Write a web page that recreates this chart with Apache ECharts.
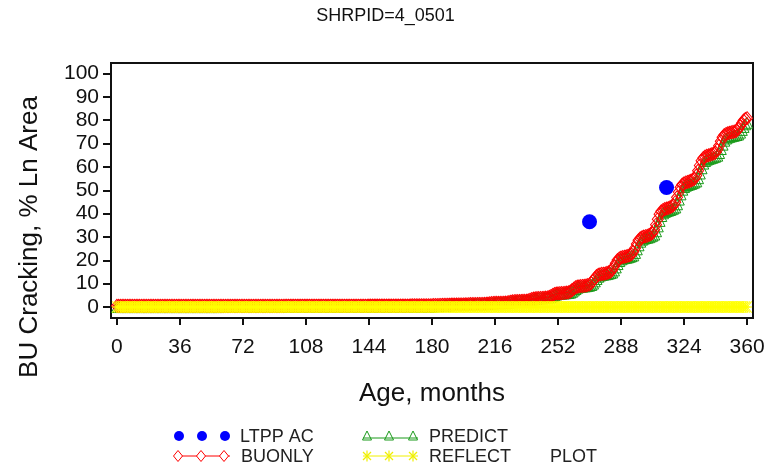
<!DOCTYPE html>
<html><head><meta charset="utf-8">
<script src="https://cdn.jsdelivr.net/npm/echarts@6/dist/echarts.min.js"></script>
<style>html,body{margin:0;padding:0;background:#fff}#c{width:771px;height:471px}</style>
</head><body><div id="c"></div>
<script>
const TITLE = 'SHRPID=4_0501';
const X_NAME = 'Age, months';
const Y_NAME = 'BU Cracking, % Ln Area';
const X_TICKS = [0,36,72,108,144,180,216,252,288,324,360];
const Y_TICKS = [0,10,20,30,40,50,60,70,80,90,100];

const AGES = [
0,1,2,3,4,5,6,7,8,9,10,11,
12,13,14,15,16,17,18,19,20,21,22,23,
24,25,26,27,28,29,30,31,32,33,34,35,
36,37,38,39,40,41,42,43,44,45,46,47,
48,49,50,51,52,53,54,55,56,57,58,59,
60,61,62,63,64,65,66,67,68,69,70,71,
72,73,74,75,76,77,78,79,80,81,82,83,
84,85,86,87,88,89,90,91,92,93,94,95,
96,97,98,99,100,101,102,103,104,105,106,107,
108,109,110,111,112,113,114,115,116,117,118,119,
120,121,122,123,124,125,126,127,128,129,130,131,
132,133,134,135,136,137,138,139,140,141,142,143,
144,145,146,147,148,149,150,151,152,153,154,155,
156,157,158,159,160,161,162,163,164,165,166,167,
168,169,170,171,172,173,174,175,176,177,178,179,
180,181,182,183,184,185,186,187,188,189,190,191,
192,193,194,195,196,197,198,199,200,201,202,203,
204,205,206,207,208,209,210,211,212,213,214,215,
216,217,218,219,220,221,222,223,224,225,226,227,
228,229,230,231,232,233,234,235,236,237,238,239,
240,241,242,243,244,245,246,247,248,249,250,251,
252,253,254,255,256,257,258,259,260,261,262,263,
264,265,266,267,268,269,270,271,272,273,274,275,
276,277,278,279,280,281,282,283,284,285,286,287,
288,289,290,291,292,293,294,295,296,297,298,299,
300,301,302,303,304,305,306,307,308,309,310,311,
312,313,314,315,316,317,318,319,320,321,322,323,
324,325,326,327,328,329,330,331,332,333,334,335,
336,337,338,339,340,341,342,343,344,345,346,347,
348,349,350,351,352,353,354,355,356,357,358,359,
360];

const BUONLY = [
0.5,0.5,0.5,0.5,0.5,0.5,0.5,0.5,0.5,0.5,0.5,0.5,
0.5,0.5,0.5,0.5,0.5,0.5,0.5,0.5,0.5,0.5,0.5,0.5,
0.5,0.5,0.5,0.5,0.5,0.5,0.5,0.5,0.5,0.5,0.5,0.5,
0.5,0.5,0.5,0.5,0.5,0.5,0.5,0.5,0.5,0.5,0.5,0.5,
0.5,0.5,0.5,0.5,0.5,0.5,0.5,0.5,0.5,0.5,0.5,0.5,
0.5,0.5,0.5,0.5,0.5,0.5,0.5,0.5,0.5,0.5,0.5,0.5,
0.5,0.5,0.5,0.5,0.5,0.5,0.5,0.5,0.5,0.5,0.5,0.5,
0.5,0.5,0.5,0.5,0.5,0.5,0.5,0.5,0.5,0.5,0.5,0.5,
0.55,0.55,0.55,0.55,0.55,0.55,0.55,0.55,0.55,0.55,0.55,0.55,
0.55,0.55,0.55,0.55,0.55,0.55,0.55,0.55,0.55,0.55,0.55,0.55,
0.55,0.55,0.55,0.55,0.55,0.55,0.55,0.55,0.55,0.55,0.55,0.55,
0.55,0.55,0.55,0.55,0.55,0.55,0.55,0.55,0.55,0.55,0.55,0.55,
0.6,0.6,0.6,0.6,0.6,0.6,0.6,0.6,0.6,0.6,0.6,0.6,
0.6,0.6,0.6,0.6,0.6,0.6,0.6,0.6,0.6,0.6,0.6,0.6,
0.7,0.7,0.7,0.7,0.7,0.7,0.7,0.7,0.7,0.7,0.7,0.7,
0.80,0.82,0.84,0.86,0.88,0.90,0.92,0.94,0.96,0.98,1.00,1.02,
1.04,1.06,1.08,1.10,1.11,1.11,1.12,1.14,1.18,1.22,1.26,1.28,
1.29,1.29,1.30,1.30,1.32,1.33,1.35,1.41,1.50,1.60,1.69,1.74,
1.77,1.78,1.79,1.80,1.82,1.85,1.88,1.98,2.12,2.28,2.42,2.50,
2.54,2.57,2.58,2.60,2.64,2.68,2.73,2.89,3.12,3.38,3.61,3.74,
3.81,3.85,3.87,3.90,3.96,4.03,4.11,4.36,4.74,5.16,5.54,5.75,
5.85,5.92,5.96,6.00,6.09,6.19,6.31,6.68,7.24,7.86,8.42,8.73,
8.88,8.98,9.04,9.10,9.26,9.42,9.63,10.27,11.22,12.28,13.23,13.76,
14.03,14.19,14.29,14.40,14.62,14.84,15.13,16.01,17.32,18.78,20.09,20.82,
21.19,21.41,21.55,21.70,21.96,22.23,22.58,23.64,25.22,26.98,28.56,29.44,
29.88,30.15,30.32,30.50,30.86,31.21,31.69,33.12,35.26,37.64,39.78,40.97,
41.57,41.92,42.16,42.40,42.74,43.08,43.54,44.91,46.96,49.24,51.29,52.43,
53.00,53.34,53.57,53.80,54.14,54.48,54.94,56.31,58.36,60.64,62.69,63.83,
64.40,64.74,64.97,65.20,65.49,65.78,66.16,67.31,69.04,70.96,72.69,73.65,
74.13,74.42,74.61,74.80,75.00,75.19,75.45,76.23,77.40,78.70,79.87,80.52,
80.85];

const PREDICT = [
0,0,0,0,0,0,0,0,0,0,0,0,
0,0,0,0,0,0,0,0,0,0,0,0,
0,0,0,0,0,0,0,0,0,0,0,0,
0,0,0,0,0,0,0,0,0,0,0,0,
0,0,0,0,0,0,0,0,0,0,0,0,
0.1,0.1,0.1,0.1,0.1,0.1,0.1,0.1,0.1,0.1,0.1,0.1,
0.1,0.1,0.1,0.1,0.1,0.1,0.1,0.1,0.1,0.1,0.1,0.1,
0.1,0.1,0.1,0.1,0.1,0.1,0.1,0.1,0.1,0.1,0.1,0.1,
0.1,0.1,0.1,0.1,0.1,0.1,0.1,0.1,0.1,0.1,0.1,0.1,
0.1,0.1,0.1,0.1,0.1,0.1,0.1,0.1,0.1,0.1,0.1,0.1,
0.2,0.2,0.2,0.2,0.2,0.2,0.2,0.2,0.2,0.2,0.2,0.2,
0.2,0.2,0.2,0.2,0.2,0.2,0.2,0.2,0.2,0.2,0.2,0.2,
0.2,0.2,0.2,0.2,0.2,0.2,0.2,0.2,0.2,0.2,0.2,0.2,
0.2,0.2,0.2,0.2,0.2,0.2,0.2,0.2,0.2,0.2,0.2,0.2,
0.2,0.2,0.2,0.2,0.2,0.2,0.2,0.2,0.2,0.2,0.2,0.2,
0.30,0.35,0.40,0.45,0.50,0.55,0.60,0.65,0.70,0.75,0.80,0.85,
0.90,0.95,1.00,1.02,1.05,1.07,1.08,1.10,1.12,1.15,1.19,1.23,
1.25,1.27,1.28,1.28,1.29,1.31,1.33,1.36,1.42,1.50,1.60,1.68,
1.72,1.75,1.76,1.77,1.78,1.80,1.83,1.86,1.96,2.10,2.25,2.38,
2.46,2.50,2.53,2.54,2.56,2.60,2.64,2.69,2.84,3.06,3.31,3.54,
3.66,3.73,3.77,3.79,3.82,3.88,3.95,4.03,4.27,4.64,5.06,5.43,
5.64,5.73,5.80,5.84,5.88,5.97,6.07,6.18,6.55,7.10,7.70,8.25,
8.56,8.70,8.80,8.86,8.92,9.07,9.23,9.44,10.06,11.00,12.03,12.97,
13.48,13.75,13.91,14.00,14.11,14.33,14.54,14.83,15.69,16.97,18.40,19.69,
20.40,20.77,20.98,21.12,21.27,21.52,21.79,22.13,23.17,24.72,26.44,27.99,
28.85,29.28,29.55,29.71,29.89,30.24,30.59,31.06,32.46,34.55,36.89,38.98,
40.15,40.74,41.08,41.32,41.55,41.89,42.22,42.67,44.01,46.02,48.26,50.26,
51.38,51.94,52.27,52.50,52.72,53.06,53.39,53.84,55.18,57.19,59.43,61.44,
62.55,63.11,63.45,63.67,63.90,64.18,64.46,64.84,65.96,67.66,69.54,71.24,
72.18,72.65,72.93,73.12,73.30,73.50,73.69,73.94,74.71,75.85,77.13,78.27,
78.91];

const REFLECT = [
0,0,0,0,0,0,0,0,0,0,0,0, 0,0,0,0,0,0,0,0,0,0,0,0,
0,0,0,0,0,0,0,0,0,0,0,0, 0,0,0,0,0,0,0,0,0,0,0,0,
0,0,0,0,0,0,0,0,0,0,0,0, 0,0,0,0,0,0,0,0,0,0,0,0,
0,0,0,0,0,0,0,0,0,0,0,0, 0,0,0,0,0,0,0,0,0,0,0,0,
0,0,0,0,0,0,0,0,0,0,0,0, 0,0,0,0,0,0,0,0,0,0,0,0,
0,0,0,0,0,0,0,0,0,0,0,0, 0,0,0,0,0,0,0,0,0,0,0,0,
0,0,0,0,0,0,0,0,0,0,0,0, 0,0,0,0,0,0,0,0,0,0,0,0,
0,0,0,0,0,0,0,0,0,0,0,0, 0,0,0,0,0,0,0,0,0,0,0,0,
0,0,0,0,0,0,0,0,0,0,0,0, 0,0,0,0,0,0,0,0,0,0,0,0,
0,0,0,0,0,0,0,0,0,0,0,0, 0,0,0,0,0,0,0,0,0,0,0,0,
0,0,0,0,0,0,0,0,0,0,0,0, 0,0,0,0,0,0,0,0,0,0,0,0,
0,0,0,0,0,0,0,0,0,0,0,0, 0,0,0,0,0,0,0,0,0,0,0,0,
0,0,0,0,0,0,0,0,0,0,0,0, 0,0,0,0,0,0,0,0,0,0,0,0,
0,0,0,0,0,0,0,0,0,0,0,0, 0,0,0,0,0,0,0,0,0,0,0,0,
0,0,0,0,0,0,0,0,0,0,0,0, 0,0,0,0,0,0,0,0,0,0,0,0,
0];

const LTPP_AGES = [270, 314];
const LTPP_AC = [36.5, 51.2];

const FONT = "'Liberation Sans', Arial, Helvetica, sans-serif";
const STAR = 'path://M11 0H13V24H11Z M0 11H24V13H0Z M1.4 0L24 22.6L22.6 24L0 1.4Z M22.6 0L24 1.4L1.4 24L0 22.6Z';

const pairs = (xs, ys) => xs.map((x, i) => [x, ys[i]]);

const chart = echarts.init(document.getElementById('c'), null, {renderer: 'canvas'});

// legend drawn as graphic elements
const legend = [];
function txt(x, y, s) {
  legend.push({type: 'text', x: x, y: y, style: {text: s, fill: '#222', font: '18px ' + FONT, align: 'left', verticalAlign: 'middle', textAlign: 'left', textVerticalAlign: 'middle'}});
}
function hline(x1, x2, y, color) {
  legend.push({type: 'line', shape: {x1: x1, y1: y, x2: x2, y2: y}, style: {stroke: color, lineWidth: 1}});
}
// LTPP AC
[179, 202, 225].forEach(x => legend.push({type: 'circle', shape: {cx: x, cy: 436, r: 5}, style: {fill: '#0000ff'}}));
txt(240, 437, 'LTPP AC');
// PREDICT
hline(363, 418, 438, '#1a9a1a');
[367, 389, 413].forEach(x => legend.push({type: 'polygon', shape: {points: [[x, 431], [x + 4.5, 440], [x - 4.5, 440]]}, style: {fill: 'none', stroke: '#1a9a1a', lineWidth: 1}}));
txt(429, 437, 'PREDICT');
// BUONLY
hline(174, 230, 456, '#ff0000');
[178, 201, 224].forEach(x => legend.push({type: 'polygon', shape: {points: [[x, 450.5], [x + 4.5, 456], [x, 461.5], [x - 4.5, 456]]}, style: {fill: '#fff', stroke: '#ff0000', lineWidth: 1}}));
txt(241, 457, 'BUONLY');
// REFLECT
hline(363, 418, 456, '#f0f000');
[367, 389, 413].forEach(x => {
  legend.push({type: 'line', shape: {x1: x, y1: 450.5, x2: x, y2: 461.5}, style: {stroke: '#f0f000', lineWidth: 1.2}});
  legend.push({type: 'line', shape: {x1: x - 4, y1: 452, x2: x + 4, y2: 460}, style: {stroke: '#f0f000', lineWidth: 1.2}});
  legend.push({type: 'line', shape: {x1: x + 4, y1: 452, x2: x - 4, y2: 460}, style: {stroke: '#f0f000', lineWidth: 1.2}});
});
txt(429, 457, 'REFLECT');
txt(550, 457, 'PLOT');
// y axis title
legend.push({type: 'text', x: 30, y: 237, rotation: Math.PI / 2,
  style: {text: Y_NAME, fill: '#111', font: '26px ' + FONT, align: 'center', verticalAlign: 'middle', textAlign: 'center', textVerticalAlign: 'middle'}});

chart.setOption({
  animation: false,
  backgroundColor: '#fff',
  title: {text: TITLE, left: 'center', top: 7, padding: 0,
    textStyle: {fontFamily: FONT, fontSize: 18, fontWeight: 'normal', color: '#111'}},
  grid: {left: 111, right: 18, top: 63, bottom: 153, show: true, borderColor: '#111', borderWidth: 2, backgroundColor: 'transparent'},
  xAxis: {
    type: 'value', min: -3.4, max: 363.4,
    name: X_NAME, nameLocation: 'middle', nameGap: 63,
    nameTextStyle: {fontFamily: FONT, fontSize: 26, color: '#111'},
    axisLine: {show: true, onZero: false, lineStyle: {color: '#111', width: 2}},
    axisTick: {show: true, length: 7, lineStyle: {color: '#111', width: 2}, customValues: X_TICKS},
    axisLabel: {margin: 19, fontFamily: FONT, fontSize: 21, color: '#111', customValues: X_TICKS},
    splitLine: {show: false}
  },
  yAxis: {
    type: 'value', min: -4.7, max: 104.5,
    axisLine: {show: true, onZero: false, lineStyle: {color: '#111', width: 2}},
    axisTick: {show: true, length: 8, lineStyle: {color: '#111', width: 2}, customValues: Y_TICKS},
    axisLabel: {margin: 12, fontFamily: FONT, fontSize: 21, color: '#111', customValues: Y_TICKS},
    splitLine: {show: false}
  },
  graphic: legend,
  series: [
    {name: 'PREDICT', type: 'line', z: 2, data: pairs(AGES, PREDICT), showAllSymbol: true,
      symbol: 'triangle', symbolSize: [11, 11],
      itemStyle: {color: 'rgba(0,0,0,0)', borderColor: '#1a9a1a', borderWidth: 1},
      lineStyle: {color: '#1a9a1a', width: 1}},
    {name: 'BUONLY', type: 'line', z: 3, data: pairs(AGES, BUONLY), showAllSymbol: true,
      symbol: 'diamond', symbolSize: [11, 13],
      itemStyle: {color: 'rgba(0,0,0,0)', borderColor: '#ff0000', borderWidth: 1},
      lineStyle: {color: '#ff0000', width: 1}},
    {name: 'REFLECT', type: 'line', z: 4, data: pairs(AGES, REFLECT), showAllSymbol: true,
      symbol: STAR, symbolSize: [10, 12],
      itemStyle: {color: '#ffff00'},
      lineStyle: {color: '#ffff00', width: 1}},
    {name: 'LTPP AC', type: 'scatter', z: 5, data: pairs(LTPP_AGES, LTPP_AC),
      symbol: 'circle', symbolSize: 15, itemStyle: {color: '#0000ff', opacity: 1}}
  ]
});
</script>
</body></html>
